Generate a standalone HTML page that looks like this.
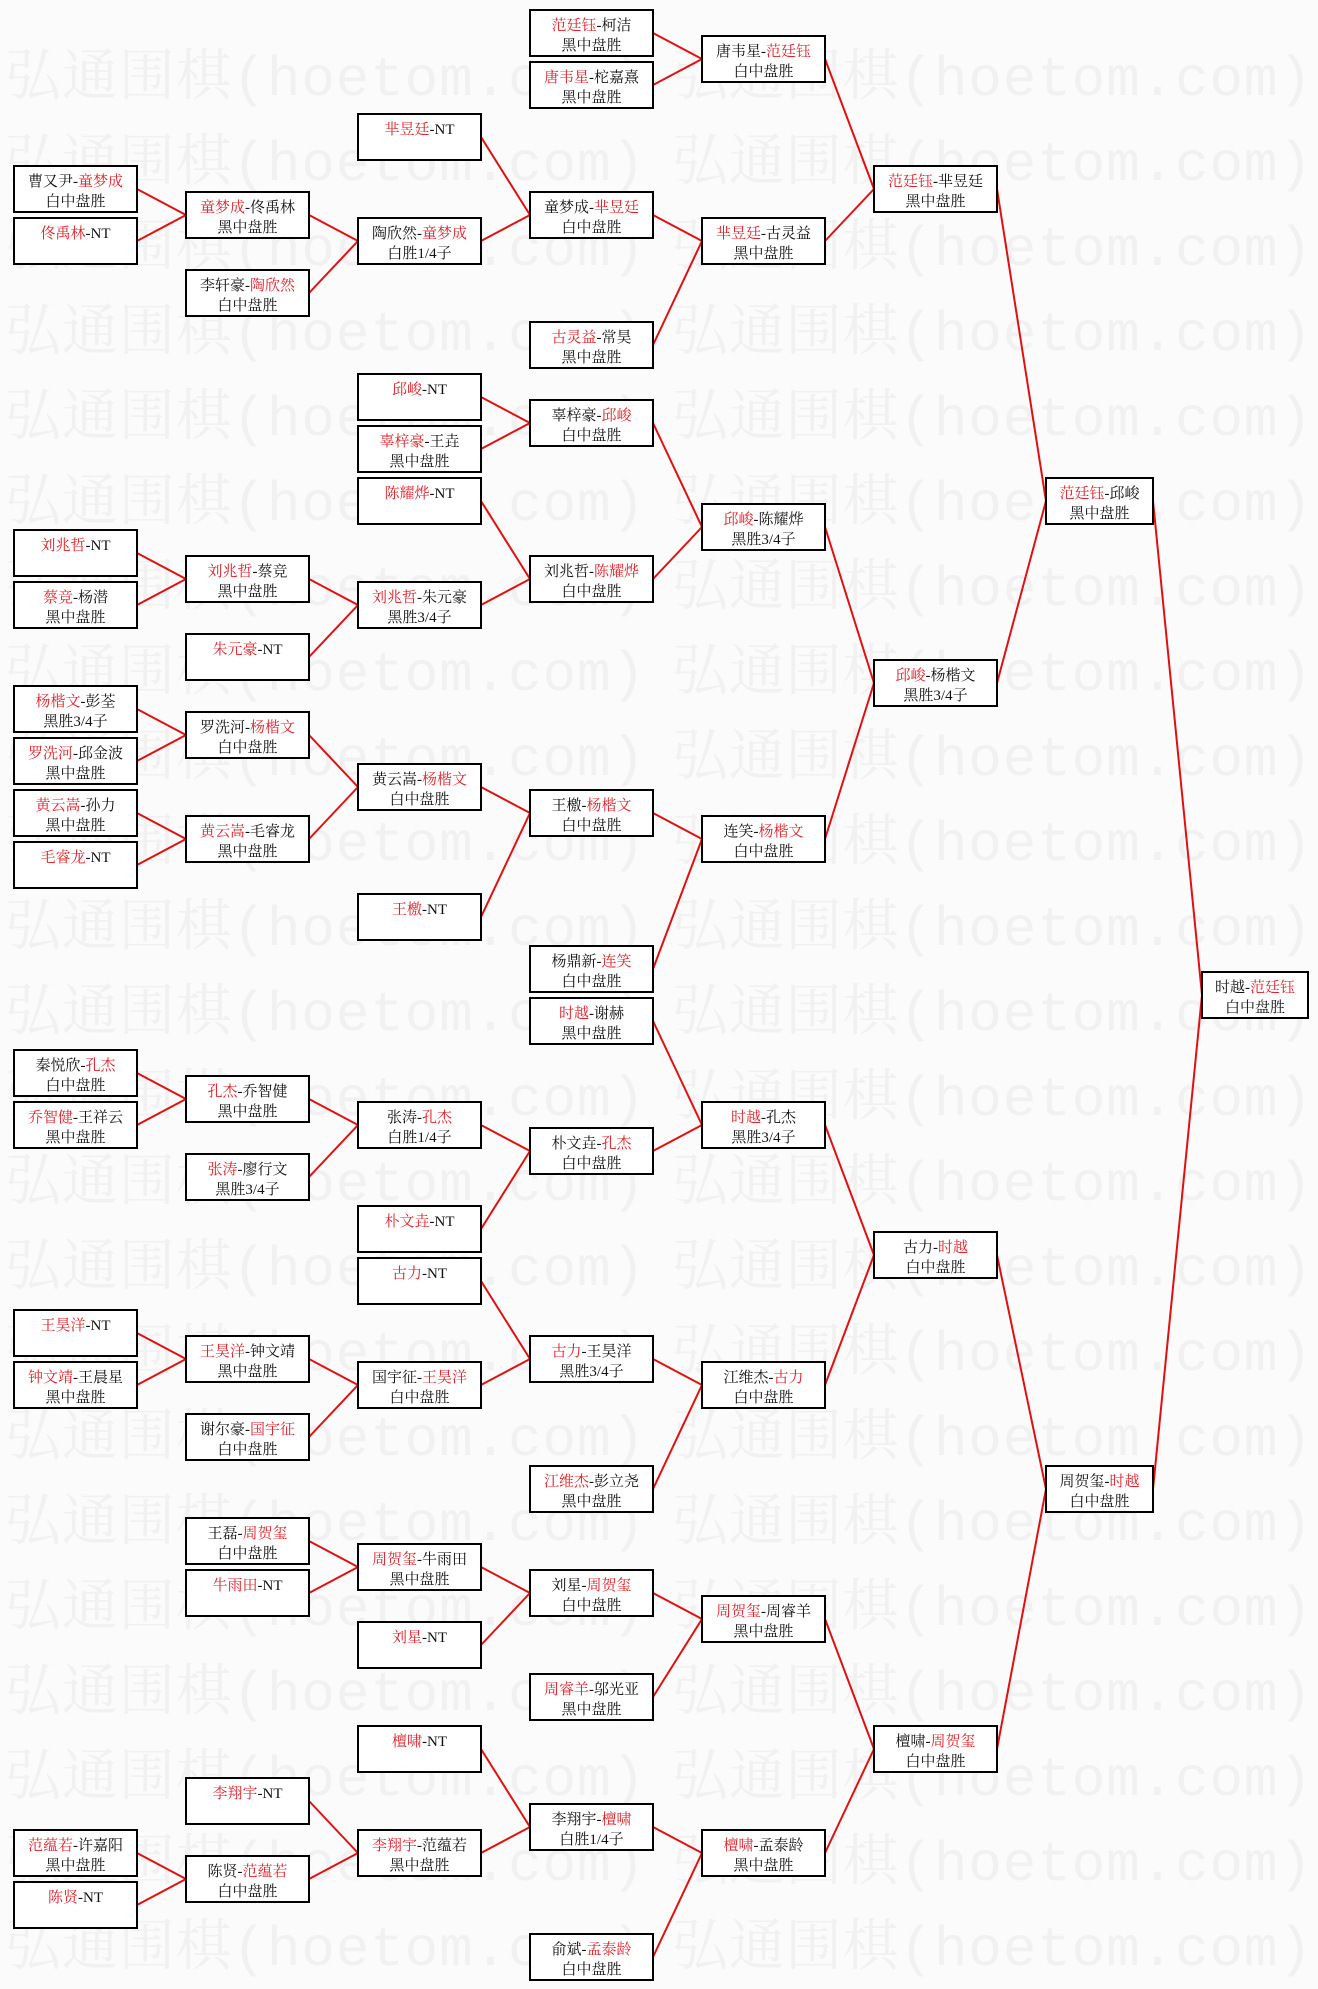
<!DOCTYPE html>
<html><head><meta charset="utf-8"><style>
html,body{margin:0;padding:0;background:#fbfbfb}
svg{display:block}
.w{font-family:"Liberation Mono","Noto Serif CJK SC",monospace;font-size:56px;fill:#f1f1f1}
.b rect{fill:#fff;stroke:#000;stroke-width:2}
.b text{font-family:"Liberation Serif","Noto Serif CJK SC",serif;font-size:15px;fill:#111;text-anchor:middle}
.r{fill:#e0202a}
.l line{stroke:#e01010;stroke-width:2}
</style></head><body>
<svg width="1318" height="1989" xmlns="http://www.w3.org/2000/svg">
<g class="w">
<text x="5" y="95" textLength="640" lengthAdjust="spacing">弘通围棋(hoetom.com)</text><text x="672" y="95" textLength="640" lengthAdjust="spacing">弘通围棋(hoetom.com)</text>
<text x="5" y="180" textLength="640" lengthAdjust="spacing">弘通围棋(hoetom.com)</text><text x="672" y="180" textLength="640" lengthAdjust="spacing">弘通围棋(hoetom.com)</text>
<text x="5" y="265" textLength="640" lengthAdjust="spacing">弘通围棋(hoetom.com)</text><text x="672" y="265" textLength="640" lengthAdjust="spacing">弘通围棋(hoetom.com)</text>
<text x="5" y="350" textLength="640" lengthAdjust="spacing">弘通围棋(hoetom.com)</text><text x="672" y="350" textLength="640" lengthAdjust="spacing">弘通围棋(hoetom.com)</text>
<text x="5" y="435" textLength="640" lengthAdjust="spacing">弘通围棋(hoetom.com)</text><text x="672" y="435" textLength="640" lengthAdjust="spacing">弘通围棋(hoetom.com)</text>
<text x="5" y="520" textLength="640" lengthAdjust="spacing">弘通围棋(hoetom.com)</text><text x="672" y="520" textLength="640" lengthAdjust="spacing">弘通围棋(hoetom.com)</text>
<text x="5" y="605" textLength="640" lengthAdjust="spacing">弘通围棋(hoetom.com)</text><text x="672" y="605" textLength="640" lengthAdjust="spacing">弘通围棋(hoetom.com)</text>
<text x="5" y="690" textLength="640" lengthAdjust="spacing">弘通围棋(hoetom.com)</text><text x="672" y="690" textLength="640" lengthAdjust="spacing">弘通围棋(hoetom.com)</text>
<text x="5" y="775" textLength="640" lengthAdjust="spacing">弘通围棋(hoetom.com)</text><text x="672" y="775" textLength="640" lengthAdjust="spacing">弘通围棋(hoetom.com)</text>
<text x="5" y="860" textLength="640" lengthAdjust="spacing">弘通围棋(hoetom.com)</text><text x="672" y="860" textLength="640" lengthAdjust="spacing">弘通围棋(hoetom.com)</text>
<text x="5" y="945" textLength="640" lengthAdjust="spacing">弘通围棋(hoetom.com)</text><text x="672" y="945" textLength="640" lengthAdjust="spacing">弘通围棋(hoetom.com)</text>
<text x="5" y="1030" textLength="640" lengthAdjust="spacing">弘通围棋(hoetom.com)</text><text x="672" y="1030" textLength="640" lengthAdjust="spacing">弘通围棋(hoetom.com)</text>
<text x="5" y="1115" textLength="640" lengthAdjust="spacing">弘通围棋(hoetom.com)</text><text x="672" y="1115" textLength="640" lengthAdjust="spacing">弘通围棋(hoetom.com)</text>
<text x="5" y="1200" textLength="640" lengthAdjust="spacing">弘通围棋(hoetom.com)</text><text x="672" y="1200" textLength="640" lengthAdjust="spacing">弘通围棋(hoetom.com)</text>
<text x="5" y="1285" textLength="640" lengthAdjust="spacing">弘通围棋(hoetom.com)</text><text x="672" y="1285" textLength="640" lengthAdjust="spacing">弘通围棋(hoetom.com)</text>
<text x="5" y="1370" textLength="640" lengthAdjust="spacing">弘通围棋(hoetom.com)</text><text x="672" y="1370" textLength="640" lengthAdjust="spacing">弘通围棋(hoetom.com)</text>
<text x="5" y="1455" textLength="640" lengthAdjust="spacing">弘通围棋(hoetom.com)</text><text x="672" y="1455" textLength="640" lengthAdjust="spacing">弘通围棋(hoetom.com)</text>
<text x="5" y="1540" textLength="640" lengthAdjust="spacing">弘通围棋(hoetom.com)</text><text x="672" y="1540" textLength="640" lengthAdjust="spacing">弘通围棋(hoetom.com)</text>
<text x="5" y="1625" textLength="640" lengthAdjust="spacing">弘通围棋(hoetom.com)</text><text x="672" y="1625" textLength="640" lengthAdjust="spacing">弘通围棋(hoetom.com)</text>
<text x="5" y="1710" textLength="640" lengthAdjust="spacing">弘通围棋(hoetom.com)</text><text x="672" y="1710" textLength="640" lengthAdjust="spacing">弘通围棋(hoetom.com)</text>
<text x="5" y="1795" textLength="640" lengthAdjust="spacing">弘通围棋(hoetom.com)</text><text x="672" y="1795" textLength="640" lengthAdjust="spacing">弘通围棋(hoetom.com)</text>
<text x="5" y="1880" textLength="640" lengthAdjust="spacing">弘通围棋(hoetom.com)</text><text x="672" y="1880" textLength="640" lengthAdjust="spacing">弘通围棋(hoetom.com)</text>
<text x="5" y="1965" textLength="640" lengthAdjust="spacing">弘通围棋(hoetom.com)</text><text x="672" y="1965" textLength="640" lengthAdjust="spacing">弘通围棋(hoetom.com)</text>
</g>
<g class="l">
<line x1="137" y1="189" x2="186" y2="215"/><line x1="137" y1="241" x2="186" y2="215"/>
<line x1="137" y1="553" x2="186" y2="579"/><line x1="137" y1="605" x2="186" y2="579"/>
<line x1="137" y1="709" x2="186" y2="735"/><line x1="137" y1="761" x2="186" y2="735"/>
<line x1="137" y1="813" x2="186" y2="839"/><line x1="137" y1="865" x2="186" y2="839"/>
<line x1="137" y1="1073" x2="186" y2="1099"/><line x1="137" y1="1125" x2="186" y2="1099"/>
<line x1="137" y1="1333" x2="186" y2="1359"/><line x1="137" y1="1385" x2="186" y2="1359"/>
<line x1="137" y1="1853" x2="186" y2="1879"/><line x1="137" y1="1905" x2="186" y2="1879"/>

<line x1="309" y1="215" x2="358" y2="241"/><line x1="309" y1="293" x2="358" y2="241"/>
<line x1="309" y1="579" x2="358" y2="605"/><line x1="309" y1="657" x2="358" y2="605"/>
<line x1="309" y1="735" x2="358" y2="787"/><line x1="309" y1="839" x2="358" y2="787"/>
<line x1="309" y1="1099" x2="358" y2="1125"/><line x1="309" y1="1177" x2="358" y2="1125"/>
<line x1="309" y1="1359" x2="358" y2="1385"/><line x1="309" y1="1437" x2="358" y2="1385"/>
<line x1="309" y1="1541" x2="358" y2="1567"/><line x1="309" y1="1593" x2="358" y2="1567"/>
<line x1="309" y1="1801" x2="358" y2="1853"/><line x1="309" y1="1879" x2="358" y2="1853"/>

<line x1="481" y1="137" x2="530" y2="215"/><line x1="481" y1="241" x2="530" y2="215"/>
<line x1="481" y1="397" x2="530" y2="423"/><line x1="481" y1="449" x2="530" y2="423"/>
<line x1="481" y1="501" x2="530" y2="579"/><line x1="481" y1="605" x2="530" y2="579"/>
<line x1="481" y1="787" x2="530" y2="813"/><line x1="481" y1="917" x2="530" y2="813"/>
<line x1="481" y1="1125" x2="530" y2="1151"/><line x1="481" y1="1229" x2="530" y2="1151"/>
<line x1="481" y1="1281" x2="530" y2="1359"/><line x1="481" y1="1385" x2="530" y2="1359"/>
<line x1="481" y1="1567" x2="530" y2="1593"/><line x1="481" y1="1645" x2="530" y2="1593"/>
<line x1="481" y1="1749" x2="530" y2="1827"/><line x1="481" y1="1853" x2="530" y2="1827"/>

<line x1="653" y1="33" x2="702" y2="59"/><line x1="653" y1="85" x2="702" y2="59"/>
<line x1="653" y1="215" x2="702" y2="241"/><line x1="653" y1="345" x2="702" y2="241"/>
<line x1="653" y1="423" x2="702" y2="527"/><line x1="653" y1="579" x2="702" y2="527"/>
<line x1="653" y1="813" x2="702" y2="839"/><line x1="653" y1="969" x2="702" y2="839"/>
<line x1="653" y1="1021" x2="702" y2="1125"/><line x1="653" y1="1151" x2="702" y2="1125"/>
<line x1="653" y1="1359" x2="702" y2="1385"/><line x1="653" y1="1489" x2="702" y2="1385"/>
<line x1="653" y1="1593" x2="702" y2="1619"/><line x1="653" y1="1697" x2="702" y2="1619"/>
<line x1="653" y1="1827" x2="702" y2="1853"/><line x1="653" y1="1957" x2="702" y2="1853"/>

<line x1="825" y1="59" x2="874" y2="189"/><line x1="825" y1="241" x2="874" y2="189"/>
<line x1="825" y1="527" x2="874" y2="683"/><line x1="825" y1="839" x2="874" y2="683"/>
<line x1="825" y1="1125" x2="874" y2="1255"/><line x1="825" y1="1385" x2="874" y2="1255"/>
<line x1="825" y1="1619" x2="874" y2="1749"/><line x1="825" y1="1853" x2="874" y2="1749"/>

<line x1="997" y1="189" x2="1046" y2="501"/><line x1="997" y1="683" x2="1046" y2="501"/>
<line x1="997" y1="1255" x2="1046" y2="1489"/><line x1="997" y1="1749" x2="1046" y2="1489"/>

<line x1="1153" y1="501" x2="1202" y2="995"/><line x1="1153" y1="1489" x2="1202" y2="995"/>
</g>

<!-- col0 -->
<g class="b" transform="translate(14,166)"><rect width="123" height="46"/><text x="61.5" y="20">曹又尹-<tspan class="r">童梦成</tspan></text><text x="61.5" y="40">白中盘胜</text></g>
<g class="b" transform="translate(14,218)"><rect width="123" height="46"/><text x="61.5" y="20"><tspan class="r">佟禹林</tspan>-NT</text></g>
<g class="b" transform="translate(14,530)"><rect width="123" height="46"/><text x="61.5" y="20"><tspan class="r">刘兆哲</tspan>-NT</text></g>
<g class="b" transform="translate(14,582)"><rect width="123" height="46"/><text x="61.5" y="20"><tspan class="r">蔡竞</tspan>-杨潜</text><text x="61.5" y="40">黑中盘胜</text></g>
<g class="b" transform="translate(14,686)"><rect width="123" height="46"/><text x="61.5" y="20"><tspan class="r">杨楷文</tspan>-彭荃</text><text x="61.5" y="40">黑胜3/4子</text></g>
<g class="b" transform="translate(14,738)"><rect width="123" height="46"/><text x="61.5" y="20"><tspan class="r">罗洗河</tspan>-邱金波</text><text x="61.5" y="40">黑中盘胜</text></g>
<g class="b" transform="translate(14,790)"><rect width="123" height="46"/><text x="61.5" y="20"><tspan class="r">黄云嵩</tspan>-孙力</text><text x="61.5" y="40">黑中盘胜</text></g>
<g class="b" transform="translate(14,842)"><rect width="123" height="46"/><text x="61.5" y="20"><tspan class="r">毛睿龙</tspan>-NT</text></g>
<g class="b" transform="translate(14,1050)"><rect width="123" height="46"/><text x="61.5" y="20">秦悦欣-<tspan class="r">孔杰</tspan></text><text x="61.5" y="40">白中盘胜</text></g>
<g class="b" transform="translate(14,1102)"><rect width="123" height="46"/><text x="61.5" y="20"><tspan class="r">乔智健</tspan>-王祥云</text><text x="61.5" y="40">黑中盘胜</text></g>
<g class="b" transform="translate(14,1310)"><rect width="123" height="46"/><text x="61.5" y="20"><tspan class="r">王昊洋</tspan>-NT</text></g>
<g class="b" transform="translate(14,1362)"><rect width="123" height="46"/><text x="61.5" y="20"><tspan class="r">钟文靖</tspan>-王晨星</text><text x="61.5" y="40">黑中盘胜</text></g>
<g class="b" transform="translate(14,1830)"><rect width="123" height="46"/><text x="61.5" y="20"><tspan class="r">范蕴若</tspan>-许嘉阳</text><text x="61.5" y="40">黑中盘胜</text></g>
<g class="b" transform="translate(14,1882)"><rect width="123" height="46"/><text x="61.5" y="20"><tspan class="r">陈贤</tspan>-NT</text></g>

<!-- col1 -->
<g class="b" transform="translate(186,192)"><rect width="123" height="46"/><text x="61.5" y="20"><tspan class="r">童梦成</tspan>-佟禹林</text><text x="61.5" y="40">黑中盘胜</text></g>
<g class="b" transform="translate(186,270)"><rect width="123" height="46"/><text x="61.5" y="20">李轩豪-<tspan class="r">陶欣然</tspan></text><text x="61.5" y="40">白中盘胜</text></g>
<g class="b" transform="translate(186,556)"><rect width="123" height="46"/><text x="61.5" y="20"><tspan class="r">刘兆哲</tspan>-蔡竞</text><text x="61.5" y="40">黑中盘胜</text></g>
<g class="b" transform="translate(186,634)"><rect width="123" height="46"/><text x="61.5" y="20"><tspan class="r">朱元豪</tspan>-NT</text></g>
<g class="b" transform="translate(186,712)"><rect width="123" height="46"/><text x="61.5" y="20">罗洗河-<tspan class="r">杨楷文</tspan></text><text x="61.5" y="40">白中盘胜</text></g>
<g class="b" transform="translate(186,816)"><rect width="123" height="46"/><text x="61.5" y="20"><tspan class="r">黄云嵩</tspan>-毛睿龙</text><text x="61.5" y="40">黑中盘胜</text></g>
<g class="b" transform="translate(186,1076)"><rect width="123" height="46"/><text x="61.5" y="20"><tspan class="r">孔杰</tspan>-乔智健</text><text x="61.5" y="40">黑中盘胜</text></g>
<g class="b" transform="translate(186,1154)"><rect width="123" height="46"/><text x="61.5" y="20"><tspan class="r">张涛</tspan>-廖行文</text><text x="61.5" y="40">黑胜3/4子</text></g>
<g class="b" transform="translate(186,1336)"><rect width="123" height="46"/><text x="61.5" y="20"><tspan class="r">王昊洋</tspan>-钟文靖</text><text x="61.5" y="40">黑中盘胜</text></g>
<g class="b" transform="translate(186,1414)"><rect width="123" height="46"/><text x="61.5" y="20">谢尔豪-<tspan class="r">国宇征</tspan></text><text x="61.5" y="40">白中盘胜</text></g>
<g class="b" transform="translate(186,1518)"><rect width="123" height="46"/><text x="61.5" y="20">王磊-<tspan class="r">周贺玺</tspan></text><text x="61.5" y="40">白中盘胜</text></g>
<g class="b" transform="translate(186,1570)"><rect width="123" height="46"/><text x="61.5" y="20"><tspan class="r">牛雨田</tspan>-NT</text></g>
<g class="b" transform="translate(186,1778)"><rect width="123" height="46"/><text x="61.5" y="20"><tspan class="r">李翔宇</tspan>-NT</text></g>
<g class="b" transform="translate(186,1856)"><rect width="123" height="46"/><text x="61.5" y="20">陈贤-<tspan class="r">范蕴若</tspan></text><text x="61.5" y="40">白中盘胜</text></g>

<!-- col2 -->
<g class="b" transform="translate(358,114)"><rect width="123" height="46"/><text x="61.5" y="20"><tspan class="r">芈昱廷</tspan>-NT</text></g>
<g class="b" transform="translate(358,218)"><rect width="123" height="46"/><text x="61.5" y="20">陶欣然-<tspan class="r">童梦成</tspan></text><text x="61.5" y="40">白胜1/4子</text></g>
<g class="b" transform="translate(358,374)"><rect width="123" height="46"/><text x="61.5" y="20"><tspan class="r">邱峻</tspan>-NT</text></g>
<g class="b" transform="translate(358,426)"><rect width="123" height="46"/><text x="61.5" y="20"><tspan class="r">辜梓豪</tspan>-王垚</text><text x="61.5" y="40">黑中盘胜</text></g>
<g class="b" transform="translate(358,478)"><rect width="123" height="46"/><text x="61.5" y="20"><tspan class="r">陈耀烨</tspan>-NT</text></g>
<g class="b" transform="translate(358,582)"><rect width="123" height="46"/><text x="61.5" y="20"><tspan class="r">刘兆哲</tspan>-朱元豪</text><text x="61.5" y="40">黑胜3/4子</text></g>
<g class="b" transform="translate(358,764)"><rect width="123" height="46"/><text x="61.5" y="20">黄云嵩-<tspan class="r">杨楷文</tspan></text><text x="61.5" y="40">白中盘胜</text></g>
<g class="b" transform="translate(358,894)"><rect width="123" height="46"/><text x="61.5" y="20"><tspan class="r">王檄</tspan>-NT</text></g>
<g class="b" transform="translate(358,1102)"><rect width="123" height="46"/><text x="61.5" y="20">张涛-<tspan class="r">孔杰</tspan></text><text x="61.5" y="40">白胜1/4子</text></g>
<g class="b" transform="translate(358,1206)"><rect width="123" height="46"/><text x="61.5" y="20"><tspan class="r">朴文垚</tspan>-NT</text></g>
<g class="b" transform="translate(358,1258)"><rect width="123" height="46"/><text x="61.5" y="20"><tspan class="r">古力</tspan>-NT</text></g>
<g class="b" transform="translate(358,1362)"><rect width="123" height="46"/><text x="61.5" y="20">国宇征-<tspan class="r">王昊洋</tspan></text><text x="61.5" y="40">白中盘胜</text></g>
<g class="b" transform="translate(358,1544)"><rect width="123" height="46"/><text x="61.5" y="20"><tspan class="r">周贺玺</tspan>-牛雨田</text><text x="61.5" y="40">黑中盘胜</text></g>
<g class="b" transform="translate(358,1622)"><rect width="123" height="46"/><text x="61.5" y="20"><tspan class="r">刘星</tspan>-NT</text></g>
<g class="b" transform="translate(358,1726)"><rect width="123" height="46"/><text x="61.5" y="20"><tspan class="r">檀啸</tspan>-NT</text></g>
<g class="b" transform="translate(358,1830)"><rect width="123" height="46"/><text x="61.5" y="20"><tspan class="r">李翔宇</tspan>-范蕴若</text><text x="61.5" y="40">黑中盘胜</text></g>

<!-- col3 -->
<g class="b" transform="translate(530,10)"><rect width="123" height="46"/><text x="61.5" y="20"><tspan class="r">范廷钰</tspan>-柯洁</text><text x="61.5" y="40">黑中盘胜</text></g>
<g class="b" transform="translate(530,62)"><rect width="123" height="46"/><text x="61.5" y="20"><tspan class="r">唐韦星</tspan>-柁嘉熹</text><text x="61.5" y="40">黑中盘胜</text></g>
<g class="b" transform="translate(530,192)"><rect width="123" height="46"/><text x="61.5" y="20">童梦成-<tspan class="r">芈昱廷</tspan></text><text x="61.5" y="40">白中盘胜</text></g>
<g class="b" transform="translate(530,322)"><rect width="123" height="46"/><text x="61.5" y="20"><tspan class="r">古灵益</tspan>-常昊</text><text x="61.5" y="40">黑中盘胜</text></g>
<g class="b" transform="translate(530,400)"><rect width="123" height="46"/><text x="61.5" y="20">辜梓豪-<tspan class="r">邱峻</tspan></text><text x="61.5" y="40">白中盘胜</text></g>
<g class="b" transform="translate(530,556)"><rect width="123" height="46"/><text x="61.5" y="20">刘兆哲-<tspan class="r">陈耀烨</tspan></text><text x="61.5" y="40">白中盘胜</text></g>
<g class="b" transform="translate(530,790)"><rect width="123" height="46"/><text x="61.5" y="20">王檄-<tspan class="r">杨楷文</tspan></text><text x="61.5" y="40">白中盘胜</text></g>
<g class="b" transform="translate(530,946)"><rect width="123" height="46"/><text x="61.5" y="20">杨鼎新-<tspan class="r">连笑</tspan></text><text x="61.5" y="40">白中盘胜</text></g>
<g class="b" transform="translate(530,998)"><rect width="123" height="46"/><text x="61.5" y="20"><tspan class="r">时越</tspan>-谢赫</text><text x="61.5" y="40">黑中盘胜</text></g>
<g class="b" transform="translate(530,1128)"><rect width="123" height="46"/><text x="61.5" y="20">朴文垚-<tspan class="r">孔杰</tspan></text><text x="61.5" y="40">白中盘胜</text></g>
<g class="b" transform="translate(530,1336)"><rect width="123" height="46"/><text x="61.5" y="20"><tspan class="r">古力</tspan>-王昊洋</text><text x="61.5" y="40">黑胜3/4子</text></g>
<g class="b" transform="translate(530,1466)"><rect width="123" height="46"/><text x="61.5" y="20"><tspan class="r">江维杰</tspan>-彭立尧</text><text x="61.5" y="40">黑中盘胜</text></g>
<g class="b" transform="translate(530,1570)"><rect width="123" height="46"/><text x="61.5" y="20">刘星-<tspan class="r">周贺玺</tspan></text><text x="61.5" y="40">白中盘胜</text></g>
<g class="b" transform="translate(530,1674)"><rect width="123" height="46"/><text x="61.5" y="20"><tspan class="r">周睿羊</tspan>-邬光亚</text><text x="61.5" y="40">黑中盘胜</text></g>
<g class="b" transform="translate(530,1804)"><rect width="123" height="46"/><text x="61.5" y="20">李翔宇-<tspan class="r">檀啸</tspan></text><text x="61.5" y="40">白胜1/4子</text></g>
<g class="b" transform="translate(530,1934)"><rect width="123" height="46"/><text x="61.5" y="20">俞斌-<tspan class="r">孟泰龄</tspan></text><text x="61.5" y="40">白中盘胜</text></g>

<!-- col4 -->
<g class="b" transform="translate(702,36)"><rect width="123" height="46"/><text x="61.5" y="20">唐韦星-<tspan class="r">范廷钰</tspan></text><text x="61.5" y="40">白中盘胜</text></g>
<g class="b" transform="translate(702,218)"><rect width="123" height="46"/><text x="61.5" y="20"><tspan class="r">芈昱廷</tspan>-古灵益</text><text x="61.5" y="40">黑中盘胜</text></g>
<g class="b" transform="translate(702,504)"><rect width="123" height="46"/><text x="61.5" y="20"><tspan class="r">邱峻</tspan>-陈耀烨</text><text x="61.5" y="40">黑胜3/4子</text></g>
<g class="b" transform="translate(702,816)"><rect width="123" height="46"/><text x="61.5" y="20">连笑-<tspan class="r">杨楷文</tspan></text><text x="61.5" y="40">白中盘胜</text></g>
<g class="b" transform="translate(702,1102)"><rect width="123" height="46"/><text x="61.5" y="20"><tspan class="r">时越</tspan>-孔杰</text><text x="61.5" y="40">黑胜3/4子</text></g>
<g class="b" transform="translate(702,1362)"><rect width="123" height="46"/><text x="61.5" y="20">江维杰-<tspan class="r">古力</tspan></text><text x="61.5" y="40">白中盘胜</text></g>
<g class="b" transform="translate(702,1596)"><rect width="123" height="46"/><text x="61.5" y="20"><tspan class="r">周贺玺</tspan>-周睿羊</text><text x="61.5" y="40">黑中盘胜</text></g>
<g class="b" transform="translate(702,1830)"><rect width="123" height="46"/><text x="61.5" y="20"><tspan class="r">檀啸</tspan>-孟泰龄</text><text x="61.5" y="40">黑中盘胜</text></g>

<!-- col5 -->
<g class="b" transform="translate(874,166)"><rect width="123" height="46"/><text x="61.5" y="20"><tspan class="r">范廷钰</tspan>-芈昱廷</text><text x="61.5" y="40">黑中盘胜</text></g>
<g class="b" transform="translate(874,660)"><rect width="123" height="46"/><text x="61.5" y="20"><tspan class="r">邱峻</tspan>-杨楷文</text><text x="61.5" y="40">黑胜3/4子</text></g>
<g class="b" transform="translate(874,1232)"><rect width="123" height="46"/><text x="61.5" y="20">古力-<tspan class="r">时越</tspan></text><text x="61.5" y="40">白中盘胜</text></g>
<g class="b" transform="translate(874,1726)"><rect width="123" height="46"/><text x="61.5" y="20">檀啸-<tspan class="r">周贺玺</tspan></text><text x="61.5" y="40">白中盘胜</text></g>

<!-- col6 -->
<g class="b" transform="translate(1046,478)"><rect width="107" height="46"/><text x="53.5" y="20"><tspan class="r">范廷钰</tspan>-邱峻</text><text x="53.5" y="40">黑中盘胜</text></g>
<g class="b" transform="translate(1046,1466)"><rect width="107" height="46"/><text x="53.5" y="20">周贺玺-<tspan class="r">时越</tspan></text><text x="53.5" y="40">白中盘胜</text></g>

<!-- col7 -->
<g class="b" transform="translate(1202,972)"><rect width="106" height="46"/><text x="53" y="20">时越-<tspan class="r">范廷钰</tspan></text><text x="53" y="40">白中盘胜</text></g>
</svg>
</body></html>
